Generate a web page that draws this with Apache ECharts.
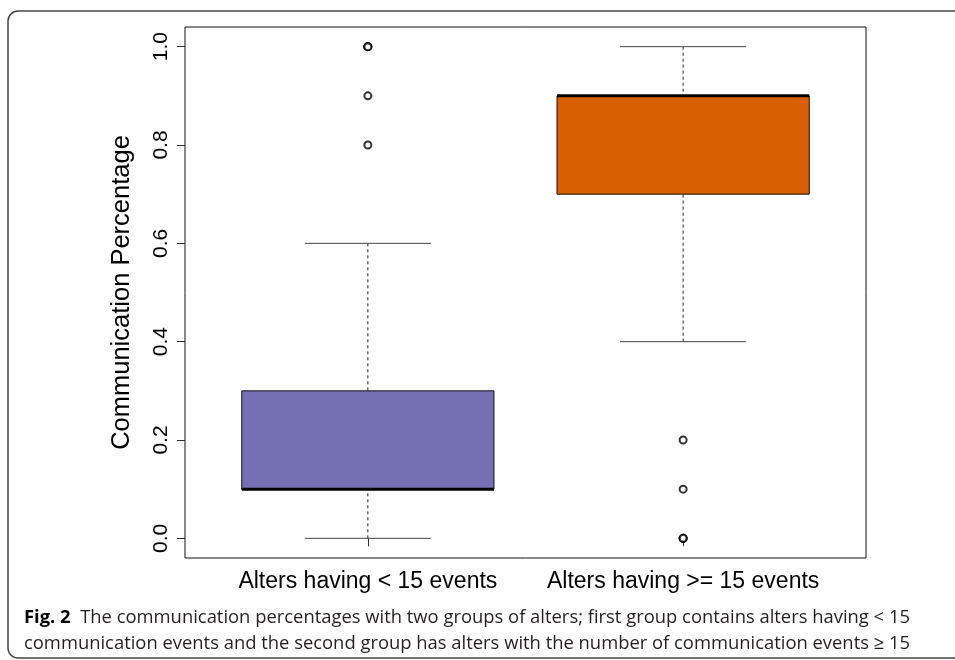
<!DOCTYPE html>
<html>
<head>
<meta charset="utf-8">
<script src="https://cdn.jsdelivr.net/npm/echarts@6/dist/echarts.min.js"></script>
<style>
  html, body { margin: 0; padding: 0; background: #fff; }
  #chart { width: 955px; height: 660px; }
</style>
</head>
<body>
<div id="chart"></div>
<script>
  // groups and box statistics
  const categories = ['Alters having < 15 events', 'Alters having >= 15 events'];
  const whiskerLow = [0.0, 0.4];
  const q1 = [0.1, 0.7];
  const median = [0.1, 0.9];
  const q3 = [0.3, 0.9];
  const whiskerHigh = [0.6, 1.0];
  const boxColors = ['#7570b3', '#d95f02'];
  // outliers: [group position, value]
  const outliers = [
    [1, 0.8], [1, 0.9], [1, 1.0], [1, 1.0], [1, 1.0],
    [2, 0.2], [2, 0.1], [2, 0.0], [2, 0.0], [2, 0.0]
  ];
  const yTicks = [0, 0.2, 0.4, 0.6, 0.8, 1.0];

  const boxData = categories.map((c, i) => [i + 1, whiskerLow[i], q1[i], median[i], q3[i], whiskerHigh[i]]);

  const chart = echarts.init(document.getElementById('chart'));

  function renderBox(params, api) {
    const x = api.value(0);
    const i = params.dataIndex;
    const p = (xv, yv) => api.coord([xv, yv]);
    const lo = p(x, api.value(1)), b1 = p(x, api.value(2)), md = p(x, api.value(3));
    const b3 = p(x, api.value(4)), hi = p(x, api.value(5));
    const left = p(x - 0.4, 0)[0], right = p(x + 0.4, 0)[0];
    const capL = p(x - 0.2, 0)[0], capR = p(x + 0.2, 0)[0];
    const dash = { stroke: '#222', lineWidth: 1, lineDash: [3, 3] };
    const cap = { stroke: '#444', lineWidth: 1 };
    return {
      type: 'group',
      children: [
        { type: 'line', shape: { x1: hi[0], y1: hi[1], x2: b3[0], y2: b3[1] }, style: dash },
        { type: 'line', shape: { x1: lo[0], y1: lo[1], x2: b1[0], y2: b1[1] }, style: dash },
        { type: 'line', shape: { x1: capL, y1: hi[1], x2: capR, y2: hi[1] }, style: cap },
        { type: 'line', shape: { x1: capL, y1: lo[1], x2: capR, y2: lo[1] }, style: cap },
        { type: 'rect', shape: { x: left, y: b3[1], width: right - left, height: b1[1] - b3[1] },
          style: { fill: boxColors[i], stroke: '#111', lineWidth: 1 } },
        { type: 'line', shape: { x1: left, y1: md[1], x2: right, y2: md[1] }, style: { stroke: '#000', lineWidth: 3 } }
      ]
    };
  }

  const option = {
    backgroundColor: '#fff',
    animation: false,
    grid: {
      left: 185, right: 89, top: 27, bottom: 102,
      show: true, borderColor: '#111', borderWidth: 1, backgroundColor: 'transparent'
    },
    xAxis: {
      type: 'value', min: 0.42, max: 2.58,
      splitLine: { show: false },
      axisLine: { show: false },
      axisTick: { show: true, length: 8, customValues: [1, 2], lineStyle: { color: '#333' } },
      axisLabel: {
        customValues: [1, 2], margin: 12,
        fontFamily: 'Liberation Sans', fontSize: 23, color: '#000',
        formatter: v => categories[Math.round(v) - 1]
      }
    },
    yAxis: {
      type: 'value', min: -0.04, max: 1.04,
      name: 'Communication Percentage', nameLocation: 'middle', nameGap: 50,
      nameTextStyle: { fontFamily: 'Liberation Sans', fontSize: 25.5, color: '#000' },
      splitLine: { show: false },
      axisLine: { show: false },
      axisTick: { show: true, length: 8, customValues: yTicks, lineStyle: { color: '#333' } },
      axisLabel: {
        customValues: yTicks, rotate: 90, margin: 13,
        fontFamily: 'Liberation Sans', fontSize: 21, color: '#000',
        formatter: v => v.toFixed(1)
      }
    },
    graphic: [
      { type: 'rect', shape: { x: 8, y: 11, width: 980, height: 647, r: [10, 0, 0, 10] },
        style: { fill: 'none', stroke: '#444', lineWidth: 1.5 }, silent: true },
      { type: 'text', left: 24, top: 605,
        style: {
          text: '{b|Fig. 2}  The communication percentages with two groups of alters; first group contains alters having < 15\ncommunication events and the second group has alters with the number of communication events ≥ 15',
          font: '18.4px "Open Sans"', fill: '#231f20', lineHeight: 26,
          rich: { b: { fontWeight: 'bold', fontFamily: 'Open Sans', fontSize: 18.4, fill: '#000' } }
        }
      }
    ],
    series: [
      { type: 'custom', renderItem: renderBox, data: boxData, encode: { x: 0, y: [1, 2, 3, 4, 5] }, z: 2 },
      { type: 'scatter', data: outliers, symbol: 'emptyCircle', symbolSize: 7,
        itemStyle: { color: '#000', borderColor: '#000', borderWidth: 1 }, z: 3 }
    ]
  };
  chart.setOption(option);
</script>
</body>
</html>
